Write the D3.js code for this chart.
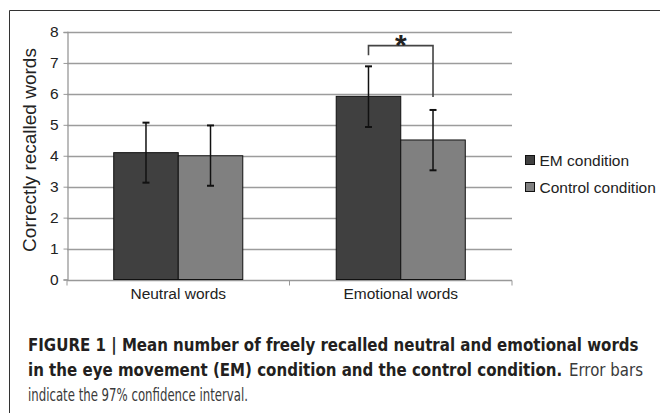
<!DOCTYPE html>
<html>
<head>
<meta charset="utf-8">
<script src="https://cdn.jsdelivr.net/npm/d3@7"></script>
<style>
  body { margin: 0; background: #fff; }
  svg text { font-family: "Liberation Sans", Arial, sans-serif; fill: #222; }
  .caption text { font-family: "Liberation Sans Narrow", "DejaVu Sans Condensed", "Liberation Sans", sans-serif; fill: #231f20; }
</style>
</head>
<body>
<div id="chart"></div>
<script>
// chart data
var categories = ["Neutral words", "Emotional words"];
var seriesNames = ["EM condition", "Control condition"];
var emValues = [4.1, 5.92];
var controlValues = [4.0, 4.51];
var emLow = [3.13, 4.93], emHigh = [5.07, 6.89];
var controlLow = [3.03, 3.53], controlHigh = [4.98, 5.48];
var yTicks = [0, 1, 2, 3, 4, 5, 6, 7, 8];
var colors = ["#404040", "#808080"];

var w = 660, h = 413;
var marginLeft = 67, plotRight = 512, plotTop = 32, plotBottom = 279.5;

var svg = d3.select("#chart").append("svg")
    .attr("width", w)
    .attr("height", h);

// outer frame
svg.append("path")
    .attr("d", "M9.5,413 V10.5 H660")
    .attr("fill", "none")
    .attr("stroke", "#333")
    .attr("stroke-width", 1);

var x0 = d3.scaleBand().domain(categories).range([marginLeft, plotRight]).paddingInner(0.42).paddingOuter(0.21);
var x1 = d3.scaleBand().domain(seriesNames).range([0, x0.bandwidth()]);
var y = d3.scaleLinear().domain([0, 8]).range([plotBottom, plotTop]);

// gridlines
svg.append("g")
    .selectAll("line")
    .data(yTicks.slice(1))
    .enter()
    .append("line")
    .attr("x1", marginLeft)
    .attr("x2", plotRight)
    .attr("y1", function(d) { return Math.round(y(d)) + 0.5; })
    .attr("y2", function(d) { return Math.round(y(d)) + 0.5; })
    .attr("stroke", "#9c9c9c")
    .attr("stroke-width", 1.3);

// y axis
var yAxis = d3.axisLeft(y).tickValues(yTicks).tickSize(4).tickPadding(5);
var gy = svg.append("g")
    .attr("transform", "translate(" + (marginLeft + 0.5) + ",0)")
    .call(yAxis);
gy.select(".domain").attr("stroke", "#999").attr("stroke-width", 1.3);
gy.selectAll(".tick line").attr("stroke", "#999");
gy.selectAll(".tick text").attr("font-size", 15.5).attr("fill", "#222")
    .attr("font-family", "Liberation Sans, Arial, sans-serif");

// x axis
var gx = svg.append("g")
    .attr("transform", "translate(0," + (Math.round(plotBottom) + 0.5) + ")");
gx.append("line")
    .attr("x1", marginLeft).attr("x2", plotRight)
    .attr("stroke", "#999").attr("stroke-width", 1.3);
var xEdges = [marginLeft, (marginLeft + plotRight) / 2, plotRight];
gx.selectAll("line.tk")
    .data(xEdges)
    .enter()
    .append("line")
    .attr("class", "tk")
    .attr("x1", function(d) { return d; })
    .attr("x2", function(d) { return d; })
    .attr("y1", 0).attr("y2", 5)
    .attr("stroke", "#999");
gx.selectAll("text")
    .data(categories)
    .enter()
    .append("text")
    .attr("x", function(d) { return x0(d) + x0.bandwidth() / 2; })
    .attr("y", 18.5)
    .attr("text-anchor", "middle")
    .attr("font-size", 15.5)
    .text(function(d) { return d; });

// bars
var rows = categories.map(function(c, i) {
  return [
    {cat: c, s: seriesNames[0], v: emValues[i], lo: emLow[i], hi: emHigh[i], color: colors[0]},
    {cat: c, s: seriesNames[1], v: controlValues[i], lo: controlLow[i], hi: controlHigh[i], color: colors[1]}
  ];
});
var flat = [].concat.apply([], rows);

svg.append("g")
    .selectAll("rect")
    .data(flat)
    .enter()
    .append("rect")
    .attr("x", function(d) { return x0(d.cat) + x1(d.s); })
    .attr("y", function(d) { return y(d.v); })
    .attr("width", x1.bandwidth())
    .attr("height", function(d) { return y(0) - y(d.v); })
    .attr("fill", function(d) { return d.color; })
    .attr("stroke", "#111")
    .attr("stroke-width", 1);

// error bars
var eb = svg.append("g").selectAll("g").data(flat).enter().append("g")
    .attr("transform", function(d) { return "translate(" + (x0(d.cat) + x1(d.s) + x1.bandwidth() / 2) + ",0)"; });
eb.append("line")
    .attr("y1", function(d) { return y(d.lo); })
    .attr("y2", function(d) { return y(d.hi); })
    .attr("stroke", "#111").attr("stroke-width", 1.5);
eb.selectAll("line.cap")
    .data(function(d) { return [d.lo, d.hi]; })
    .enter()
    .append("line")
    .attr("class", "cap")
    .attr("x1", -3.5).attr("x2", 3.5)
    .attr("y1", function(v) { return y(v); })
    .attr("y2", function(v) { return y(v); })
    .attr("stroke", "#111").attr("stroke-width", 2);

// significance bracket over emotional words
var emoX = x0(categories[1]);
var bxL = emoX + x1(seriesNames[0]) + x1.bandwidth() / 2;
var bxR = emoX + x1(seriesNames[1]) + x1.bandwidth() / 2;
var bracketTop = y(7.56);
svg.append("path")
    .attr("d", "M" + bxL + "," + y(7.25) + " V" + bracketTop + " H" + bxR + " V" + y(5.9))
    .attr("fill", "none")
    .attr("stroke", "#444")
    .attr("stroke-width", 1.6);
svg.append("text")
    .attr("x", (bxL + bxR) / 2)
    .attr("y", 55)
    .attr("text-anchor", "middle")
    .attr("font-size", 30)
    .attr("font-weight", "bold")
    .text("*");

// y title
svg.append("text")
    .attr("transform", "translate(36," + 150 + ") rotate(-90)")
    .attr("text-anchor", "middle")
    .attr("font-size", 19)
    .text("Correctly recalled words");

// legend
var legend = svg.append("g").selectAll("g")
    .data(seriesNames)
    .enter()
    .append("g")
    .attr("transform", function(d, i) { return "translate(525," + (155 + i * 27) + ")"; });
legend.append("rect")
    .attr("x", 0.5).attr("y", 0.5)
    .attr("width", 9).attr("height", 9)
    .attr("fill", function(d, i) { return colors[i]; })
    .attr("stroke", "#111");
legend.append("text")
    .attr("x", 14.5)
    .attr("y", 10.5)
    .attr("font-size", 15.5)
    .text(function(d) { return d; });

// caption, squeezed horizontally to the width the reference uses
var cap = svg.append("g").attr("class", "caption");
function capLine(x, yy, width, txt, bold, color) {
  var t = cap.append("text")
      .attr("font-size", 18)
      .attr("font-weight", bold ? "bold" : "normal")
      .text(txt);
  if (color) t.style("fill", color);
  var natural = t.node().getComputedTextLength();
  t.attr("transform", "translate(" + x + "," + yy + ") scale(" + (width / natural) + ",1)");
}
capLine(28, 351, 611, "FIGURE 1 | Mean number of freely recalled neutral and emotional words", true);
capLine(28, 376, 535, "in the eye movement (EM) condition and the control condition.", true);
capLine(569, 376, 74, "Error bars", false, "#3a3a3a");
capLine(28, 401, 220, "indicate the 97% confidence interval.", false, "#3a3a3a");
</script>
</body>
</html>
